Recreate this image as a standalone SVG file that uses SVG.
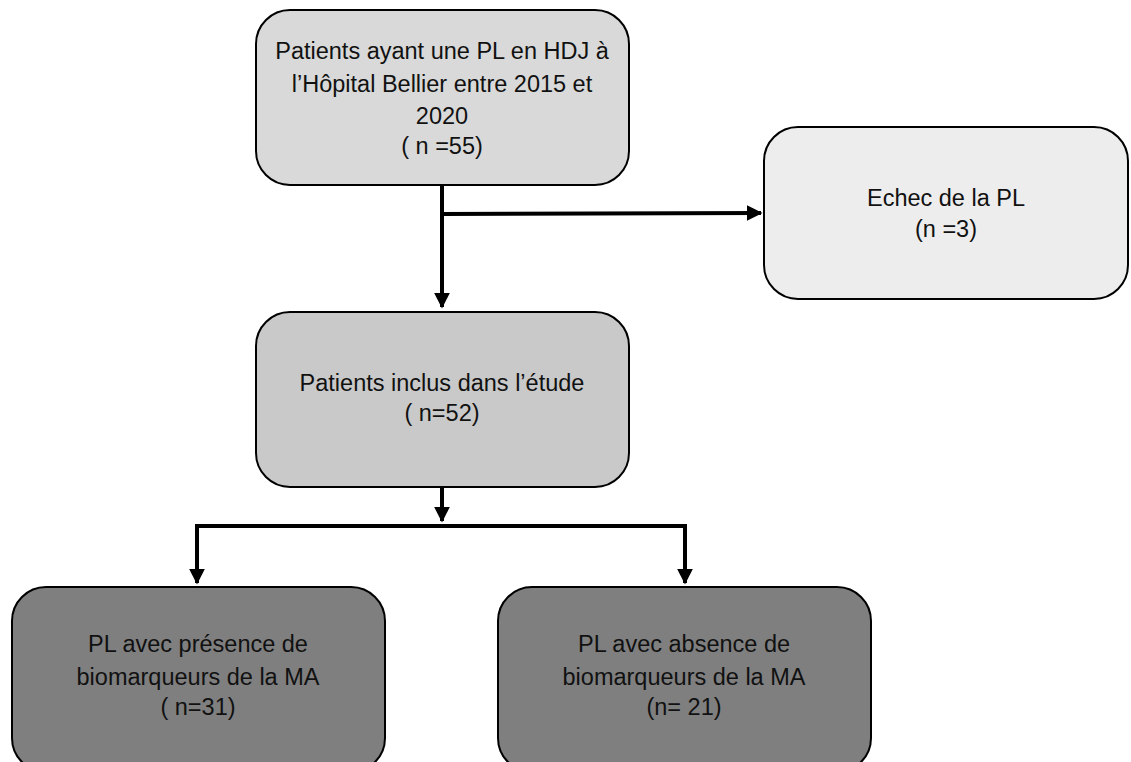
<svg xmlns="http://www.w3.org/2000/svg" width="1131" height="762" viewBox="0 0 1131 762">
<style>
.box{stroke:#000;stroke-width:2}
.t{font-family:"Liberation Sans",Arial,sans-serif;font-size:23.5px;fill:#111;text-anchor:middle}
.c{fill:none;stroke:#000;stroke-width:4}
</style>
<defs>
<marker id="ah" markerWidth="4" markerHeight="4" refX="3.6" refY="2" orient="auto" markerUnits="strokeWidth">
<path d="M0,0 L4,2 L0,4 z" fill="#000"/>
</marker>
</defs>
<rect width="1131" height="762" fill="#fff"/>
<g id="connectors">
<line class="c" x1="442" y1="185" x2="442" y2="307" marker-end="url(#ah)"/>
<line class="c" x1="442" y1="214" x2="761" y2="213" marker-end="url(#ah)"/>
<line class="c" x1="442" y1="487" x2="442" y2="521" marker-end="url(#ah)"/>
<polyline class="c" points="197,540 197,526 685,526 685,540"/>
<line class="c" x1="197" y1="526" x2="197" y2="583" marker-end="url(#ah)"/>
<line class="c" x1="685" y1="526" x2="685" y2="583" marker-end="url(#ah)"/>
</g>
<g id="n1">
<rect class="box" x="256" y="10" width="373" height="175" rx="34" fill="#d9d9d9"/>
<text class="t" x="442" y="59">Patients ayant une PL en HDJ à</text>
<text class="t" x="442" y="92">l’Hôpital Bellier entre 2015 et</text>
<text class="t" x="442" y="124">2020</text>
<text class="t" x="442" y="154">( n =55)</text>
</g>
<g id="n2">
<rect class="box" x="764" y="127" width="364" height="172" rx="34" fill="#ededed"/>
<text class="t" x="946" y="206">Echec de la PL</text>
<text class="t" x="946" y="237">(n =3)</text>
</g>
<g id="n3">
<rect class="box" x="256" y="312" width="373" height="175" rx="34" fill="#c9c9c9"/>
<text class="t" x="442" y="391">Patients inclus dans l’étude</text>
<text class="t" x="442" y="421">( n=52)</text>
</g>
<g id="n4">
<rect class="box" x="12" y="587" width="373" height="185" rx="34" fill="#7f7f7f"/>
<text class="t" x="198" y="652">PL avec présence de</text>
<text class="t" x="198" y="685">biomarqueurs de la MA</text>
<text class="t" x="198" y="715">( n=31)</text>
</g>
<g id="n5">
<rect class="box" x="498" y="587" width="373" height="185" rx="34" fill="#7f7f7f"/>
<text class="t" x="684" y="652">PL avec absence de</text>
<text class="t" x="684" y="685">biomarqueurs de la MA</text>
<text class="t" x="684" y="715">(n= 21)</text>
</g>
</svg>
